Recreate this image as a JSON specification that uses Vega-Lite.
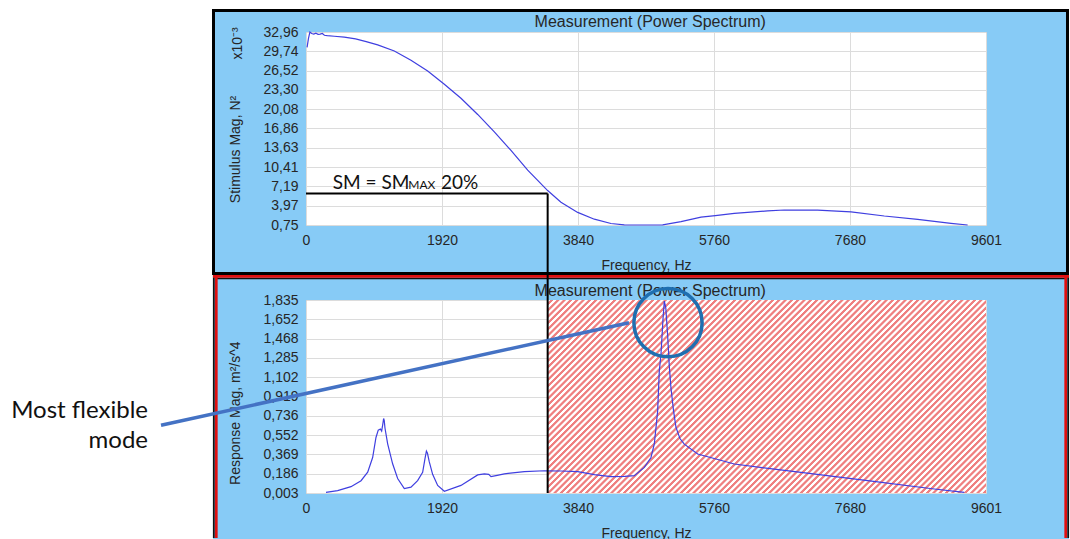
{
"$schema": "https://vega.github.io/schema/vega-lite/v6.json",
"background": "#87CBF6",
"padding": {"left": -2, "top": -2, "right": 0, "bottom": 0},
"autosize": {"type": "pad"},
"bounds": "flush",
"spacing": 75,
"datasets": {
"stimulus": [
{"f":15,"mag":30.4},{"f":35,"mag":31.9},{"f":55,"mag":32.95},{"f":80,"mag":32.7},{"f":110,"mag":32.62},{"f":140,"mag":32.75},{"f":170,"mag":32.58},{"f":200,"mag":32.62},{"f":230,"mag":32.72},{"f":260,"mag":32.42},{"f":300,"mag":32.35},{"f":400,"mag":32.25},{"f":541,"mag":32.1},{"f":700,"mag":31.8},{"f":850,"mag":31.35},{"f":1012,"mag":30.8},{"f":1247,"mag":29.8},{"f":1482,"mag":28.25},{"f":1718,"mag":26.45},{"f":1953,"mag":24.25},{"f":2188,"mag":21.9},{"f":2424,"mag":19.2},{"f":2659,"mag":16.3},{"f":2894,"mag":13.2},{"f":3130,"mag":9.9},{"f":3412,"mag":6.5},{"f":3600,"mag":4.55},{"f":3836,"mag":2.85},{"f":4071,"mag":1.72},{"f":4306,"mag":1.0},{"f":4494,"mag":0.78},{"f":4600,"mag":0.75},{"f":4900,"mag":0.75},{"f":5036,"mag":0.78},{"f":5295,"mag":1.3},{"f":5577,"mag":2.05},{"f":5779,"mag":2.3},{"f":6047,"mag":2.7},{"f":6518,"mag":3.1},{"f":6753,"mag":3.25},{"f":7224,"mag":3.22},{"f":7695,"mag":2.95},{"f":8165,"mag":2.25},{"f":8636,"mag":1.7},{"f":9107,"mag":1.03},{"f":9342,"mag":0.75}
],
"response": [
{"f":282,"mag":0.009},{"f":447,"mag":0.025},{"f":635,"mag":0.063},{"f":777,"mag":0.12},{"f":871,"mag":0.2},{"f":941,"mag":0.34},{"f":988,"mag":0.53},{"f":1020,"mag":0.6},{"f":1050,"mag":0.61},{"f":1068,"mag":0.59},{"f":1085,"mag":0.66},{"f":1096,"mag":0.71},{"f":1105,"mag":0.69},{"f":1115,"mag":0.62},{"f":1153,"mag":0.47},{"f":1223,"mag":0.28},{"f":1294,"mag":0.14},{"f":1388,"mag":0.045},{"f":1482,"mag":0.058},{"f":1576,"mag":0.12},{"f":1647,"mag":0.2},{"f":1680,"mag":0.33},{"f":1700,"mag":0.4},{"f":1715,"mag":0.38},{"f":1740,"mag":0.3},{"f":1788,"mag":0.18},{"f":1859,"mag":0.075},{"f":1953,"mag":0.02},{"f":2188,"mag":0.075},{"f":2424,"mag":0.175},{"f":2518,"mag":0.185},{"f":2580,"mag":0.18},{"f":2612,"mag":0.158},{"f":2700,"mag":0.17},{"f":2800,"mag":0.185},{"f":3083,"mag":0.205},{"f":3365,"mag":0.214},{"f":3600,"mag":0.212},{"f":3836,"mag":0.205},{"f":4071,"mag":0.178},{"f":4306,"mag":0.158},{"f":4500,"mag":0.16},{"f":4635,"mag":0.168},{"f":4777,"mag":0.246},{"f":4871,"mag":0.34},{"f":4918,"mag":0.47},{"f":4965,"mag":0.78},{"f":4988,"mag":1.16},{"f":5012,"mag":1.32},{"f":5040,"mag":1.65},{"f":5059,"mag":1.825},{"f":5080,"mag":1.76},{"f":5106,"mag":1.5},{"f":5130,"mag":1.2},{"f":5153,"mag":1.0},{"f":5190,"mag":0.78},{"f":5224,"mag":0.625},{"f":5280,"mag":0.52},{"f":5341,"mag":0.467},{"f":5530,"mag":0.373},{"f":6047,"mag":0.278},{"f":6989,"mag":0.198},{"f":7930,"mag":0.12},{"f":8871,"mag":0.041},{"f":9294,"mag":0.009}
]
},
"config": {
"font": "Liberation Sans",
"view": {"fill": "white", "stroke": "#A3A3A3", "strokeWidth": 1},
"axis": {"labelFont": "Liberation Sans", "labelFontSize": 14, "labelColor": "#262626", "titleFont": "Liberation Sans", "titleFontSize": 14, "titleFontWeight": "normal", "titleColor": "#262626", "ticks": false, "domain": false, "gridColor": "#DCDCDC", "gridWidth": 1, "labelPadding": 8, "labelOverlap": false, "labelFlush": false}
},
"vconcat": [
{
"width": 680, "height": 193,
"layer": [
{"data": {"values": [{}]}, "mark": {"type": "rect", "fill": "white"},
 "encoding": {"x": {"datum": -4334.5}, "x2": {"datum": -1313.1}, "y": {"datum": 38.467}, "y2": {"datum": -51.82}}},
{"data": {"values": [{}]}, "mark": {"type": "rect", "fill": "white"},
 "encoding": {"x": {"datum": -4334.5}, "x2": {"datum": 10800.8}, "y": {"datum": 38.467}, "y2": {"datum": 36.8}}},
{"data": {"values": [{}]}, "mark": {"type": "rect", "fill": "white"},
 "encoding": {"x": {"datum": 10772.9}, "x2": {"datum": 10800.8}, "y": {"datum": 38.467}, "y2": {"datum": -51.82}}},
{"data": {"values": [{}]}, "mark": {"type": "rect", "filled": false, "stroke": "black", "strokeWidth": 3},
 "encoding": {"x": {"datum": -1306.0}, "x2": {"datum": 10751.7}, "y": {"datum": 36.548}, "y2": {"datum": -7.344}}},
{"data": {"values": [{}]}, "mark": {"type": "text", "text": "Measurement (Power Spectrum)", "font": "Liberation Sans", "fontSize": 16, "align": "center", "baseline": "alphabetic", "color": "#262626"},
 "encoding": {"x": {"datum": 4859.8}, "y": {"datum": 33.828}}},
{"data": {"name": "stimulus"}, "mark": {"type": "line", "color": "#3F3FE0", "strokeWidth": 1.2},
 "encoding": {
  "x": {"field": "f", "type": "quantitative", "scale": {"domain": [0, 9601], "nice": false, "zero": false},
        "axis": {"values": [0, 1920, 3840, 5760, 7680, 9601], "tickCount": 20, "format": "d", "title": "Frequency, Hz", "titlePadding": 11, "grid": true, "labelOverlap": false}},
  "y": {"field": "mag", "type": "quantitative", "scale": {"domain": [0.75, 32.96], "nice": false, "zero": false},
        "axis": {"values": [0.75, 3.97, 7.19, 10.41, 13.63, 16.86, 20.08, 23.30, 26.52, 29.74, 32.96], "tickCount": 20, "labelExpr": "replace(format(datum.value, '.2f'), '.', ',')", "title": "Stimulus Mag, N²", "titleX": -66.5, "titleY": 117, "titleBaseline": "alphabetic", "grid": true, "labelOverlap": false}}
 }},
{"data": {"values": [{}]}, "mark": {"type": "rule", "color": "black", "strokeWidth": 2},
 "encoding": {"x": {"datum": 0}, "x2": {"datum": 3412}, "y": {"datum": 6.0}}},
{"data": {"values": [{}]}, "mark": {"type": "rule", "color": "black", "strokeWidth": 2},
 "encoding": {"x": {"datum": 3412}, "y": {"datum": 6.0}, "y2": {"datum": -7.93}}},
{"data": {"values": [{}]}, "mark": {"type": "text", "text": "SM = SM", "font": "Lato", "fontSize": 19, "align": "left", "baseline": "alphabetic", "color": "#111111"},
 "encoding": {"x": {"datum": 377}, "y": {"datum": 6.808}}},
{"data": {"values": [{}]}, "mark": {"type": "text", "text": "MAX", "font": "Lato", "fontSize": 12, "align": "left", "baseline": "alphabetic", "color": "#111111"},
 "encoding": {"x": {"datum": 1444.4}, "y": {"datum": 6.808}}},
{"data": {"values": [{}]}, "mark": {"type": "text", "text": "20%", "font": "Lato", "fontSize": 19, "align": "left", "baseline": "alphabetic", "color": "#111111"},
 "encoding": {"x": {"datum": 1905}, "y": {"datum": 6.808}}},
{"data": {"values": [{}]}, "mark": {"type": "text", "text": "x10⁻³", "font": "Liberation Sans", "fontSize": 14, "angle": 270, "align": "center", "baseline": "alphabetic", "color": "#262626"},
 "encoding": {"x": {"datum": -903.6}, "y": {"datum": 31.04}}}
]
},
{
"width": 680, "height": 193,
"layer": [
{"data": {"values": [{}]}, "mark": {"type": "rect", "fill": {"gradient": "linear", "x1": 0, "y1": 0, "x2": 1.2064, "y2": 0.5312, "stops": [
{"offset":0,"color":"#fff"},{"offset":0.0035,"color":"#fff"},{"offset":0.005,"color":"#ef8080"},{"offset":0.0085,"color":"#ef8080"},
{"offset":0.01,"color":"#fff"},{"offset":0.0135,"color":"#fff"},{"offset":0.015,"color":"#ef8080"},{"offset":0.0185,"color":"#ef8080"},
{"offset":0.02,"color":"#fff"},{"offset":0.0235,"color":"#fff"},{"offset":0.025,"color":"#ef8080"},{"offset":0.0285,"color":"#ef8080"},
{"offset":0.03,"color":"#fff"},{"offset":0.0335,"color":"#fff"},{"offset":0.035,"color":"#ef8080"},{"offset":0.0385,"color":"#ef8080"},
{"offset":0.04,"color":"#fff"},{"offset":0.0435,"color":"#fff"},{"offset":0.045,"color":"#ef8080"},{"offset":0.0485,"color":"#ef8080"},
{"offset":0.05,"color":"#fff"},{"offset":0.0535,"color":"#fff"},{"offset":0.055,"color":"#ef8080"},{"offset":0.0585,"color":"#ef8080"},
{"offset":0.06,"color":"#fff"},{"offset":0.0635,"color":"#fff"},{"offset":0.065,"color":"#ef8080"},{"offset":0.0685,"color":"#ef8080"},
{"offset":0.07,"color":"#fff"},{"offset":0.0735,"color":"#fff"},{"offset":0.075,"color":"#ef8080"},{"offset":0.0785,"color":"#ef8080"},
{"offset":0.08,"color":"#fff"},{"offset":0.0835,"color":"#fff"},{"offset":0.085,"color":"#ef8080"},{"offset":0.0885,"color":"#ef8080"},
{"offset":0.09,"color":"#fff"},{"offset":0.0935,"color":"#fff"},{"offset":0.095,"color":"#ef8080"},{"offset":0.0985,"color":"#ef8080"},
{"offset":0.10,"color":"#fff"},{"offset":0.1035,"color":"#fff"},{"offset":0.105,"color":"#ef8080"},{"offset":0.1085,"color":"#ef8080"},
{"offset":0.11,"color":"#fff"},{"offset":0.1135,"color":"#fff"},{"offset":0.115,"color":"#ef8080"},{"offset":0.1185,"color":"#ef8080"},
{"offset":0.12,"color":"#fff"},{"offset":0.1235,"color":"#fff"},{"offset":0.125,"color":"#ef8080"},{"offset":0.1285,"color":"#ef8080"},
{"offset":0.13,"color":"#fff"},{"offset":0.1335,"color":"#fff"},{"offset":0.135,"color":"#ef8080"},{"offset":0.1385,"color":"#ef8080"},
{"offset":0.14,"color":"#fff"},{"offset":0.1435,"color":"#fff"},{"offset":0.145,"color":"#ef8080"},{"offset":0.1485,"color":"#ef8080"},
{"offset":0.15,"color":"#fff"},{"offset":0.1535,"color":"#fff"},{"offset":0.155,"color":"#ef8080"},{"offset":0.1585,"color":"#ef8080"},
{"offset":0.16,"color":"#fff"},{"offset":0.1635,"color":"#fff"},{"offset":0.165,"color":"#ef8080"},{"offset":0.1685,"color":"#ef8080"},
{"offset":0.17,"color":"#fff"},{"offset":0.1735,"color":"#fff"},{"offset":0.175,"color":"#ef8080"},{"offset":0.1785,"color":"#ef8080"},
{"offset":0.18,"color":"#fff"},{"offset":0.1835,"color":"#fff"},{"offset":0.185,"color":"#ef8080"},{"offset":0.1885,"color":"#ef8080"},
{"offset":0.19,"color":"#fff"},{"offset":0.1935,"color":"#fff"},{"offset":0.195,"color":"#ef8080"},{"offset":0.1985,"color":"#ef8080"},
{"offset":0.20,"color":"#fff"},{"offset":0.2035,"color":"#fff"},{"offset":0.205,"color":"#ef8080"},{"offset":0.2085,"color":"#ef8080"},
{"offset":0.21,"color":"#fff"},{"offset":0.2135,"color":"#fff"},{"offset":0.215,"color":"#ef8080"},{"offset":0.2185,"color":"#ef8080"},
{"offset":0.22,"color":"#fff"},{"offset":0.2235,"color":"#fff"},{"offset":0.225,"color":"#ef8080"},{"offset":0.2285,"color":"#ef8080"},
{"offset":0.23,"color":"#fff"},{"offset":0.2335,"color":"#fff"},{"offset":0.235,"color":"#ef8080"},{"offset":0.2385,"color":"#ef8080"},
{"offset":0.24,"color":"#fff"},{"offset":0.2435,"color":"#fff"},{"offset":0.245,"color":"#ef8080"},{"offset":0.2485,"color":"#ef8080"},
{"offset":0.25,"color":"#fff"},{"offset":0.2535,"color":"#fff"},{"offset":0.255,"color":"#ef8080"},{"offset":0.2585,"color":"#ef8080"},
{"offset":0.26,"color":"#fff"},{"offset":0.2635,"color":"#fff"},{"offset":0.265,"color":"#ef8080"},{"offset":0.2685,"color":"#ef8080"},
{"offset":0.27,"color":"#fff"},{"offset":0.2735,"color":"#fff"},{"offset":0.275,"color":"#ef8080"},{"offset":0.2785,"color":"#ef8080"},
{"offset":0.28,"color":"#fff"},{"offset":0.2835,"color":"#fff"},{"offset":0.285,"color":"#ef8080"},{"offset":0.2885,"color":"#ef8080"},
{"offset":0.29,"color":"#fff"},{"offset":0.2935,"color":"#fff"},{"offset":0.295,"color":"#ef8080"},{"offset":0.2985,"color":"#ef8080"},
{"offset":0.30,"color":"#fff"},{"offset":0.3035,"color":"#fff"},{"offset":0.305,"color":"#ef8080"},{"offset":0.3085,"color":"#ef8080"},
{"offset":0.31,"color":"#fff"},{"offset":0.3135,"color":"#fff"},{"offset":0.315,"color":"#ef8080"},{"offset":0.3185,"color":"#ef8080"},
{"offset":0.32,"color":"#fff"},{"offset":0.3235,"color":"#fff"},{"offset":0.325,"color":"#ef8080"},{"offset":0.3285,"color":"#ef8080"},
{"offset":0.33,"color":"#fff"},{"offset":0.3335,"color":"#fff"},{"offset":0.335,"color":"#ef8080"},{"offset":0.3385,"color":"#ef8080"},
{"offset":0.34,"color":"#fff"},{"offset":0.3435,"color":"#fff"},{"offset":0.345,"color":"#ef8080"},{"offset":0.3485,"color":"#ef8080"},
{"offset":0.35,"color":"#fff"},{"offset":0.3535,"color":"#fff"},{"offset":0.355,"color":"#ef8080"},{"offset":0.3585,"color":"#ef8080"},
{"offset":0.36,"color":"#fff"},{"offset":0.3635,"color":"#fff"},{"offset":0.365,"color":"#ef8080"},{"offset":0.3685,"color":"#ef8080"},
{"offset":0.37,"color":"#fff"},{"offset":0.3735,"color":"#fff"},{"offset":0.375,"color":"#ef8080"},{"offset":0.3785,"color":"#ef8080"},
{"offset":0.38,"color":"#fff"},{"offset":0.3835,"color":"#fff"},{"offset":0.385,"color":"#ef8080"},{"offset":0.3885,"color":"#ef8080"},
{"offset":0.39,"color":"#fff"},{"offset":0.3935,"color":"#fff"},{"offset":0.395,"color":"#ef8080"},{"offset":0.3985,"color":"#ef8080"},
{"offset":0.40,"color":"#fff"},{"offset":0.4035,"color":"#fff"},{"offset":0.405,"color":"#ef8080"},{"offset":0.4085,"color":"#ef8080"},
{"offset":0.41,"color":"#fff"},{"offset":0.4135,"color":"#fff"},{"offset":0.415,"color":"#ef8080"},{"offset":0.4185,"color":"#ef8080"},
{"offset":0.42,"color":"#fff"},{"offset":0.4235,"color":"#fff"},{"offset":0.425,"color":"#ef8080"},{"offset":0.4285,"color":"#ef8080"},
{"offset":0.43,"color":"#fff"},{"offset":0.4335,"color":"#fff"},{"offset":0.435,"color":"#ef8080"},{"offset":0.4385,"color":"#ef8080"},
{"offset":0.44,"color":"#fff"},{"offset":0.4435,"color":"#fff"},{"offset":0.445,"color":"#ef8080"},{"offset":0.4485,"color":"#ef8080"},
{"offset":0.45,"color":"#fff"},{"offset":0.4535,"color":"#fff"},{"offset":0.455,"color":"#ef8080"},{"offset":0.4585,"color":"#ef8080"},
{"offset":0.46,"color":"#fff"},{"offset":0.4635,"color":"#fff"},{"offset":0.465,"color":"#ef8080"},{"offset":0.4685,"color":"#ef8080"},
{"offset":0.47,"color":"#fff"},{"offset":0.4735,"color":"#fff"},{"offset":0.475,"color":"#ef8080"},{"offset":0.4785,"color":"#ef8080"},
{"offset":0.48,"color":"#fff"},{"offset":0.4835,"color":"#fff"},{"offset":0.485,"color":"#ef8080"},{"offset":0.4885,"color":"#ef8080"},
{"offset":0.49,"color":"#fff"},{"offset":0.4935,"color":"#fff"},{"offset":0.495,"color":"#ef8080"},{"offset":0.4985,"color":"#ef8080"},
{"offset":0.50,"color":"#fff"},{"offset":0.5035,"color":"#fff"},{"offset":0.505,"color":"#ef8080"},{"offset":0.5085,"color":"#ef8080"},
{"offset":0.51,"color":"#fff"},{"offset":0.5135,"color":"#fff"},{"offset":0.515,"color":"#ef8080"},{"offset":0.5185,"color":"#ef8080"},
{"offset":0.52,"color":"#fff"},{"offset":0.5235,"color":"#fff"},{"offset":0.525,"color":"#ef8080"},{"offset":0.5285,"color":"#ef8080"},
{"offset":0.53,"color":"#fff"},{"offset":0.5335,"color":"#fff"},{"offset":0.535,"color":"#ef8080"},{"offset":0.5385,"color":"#ef8080"},
{"offset":0.54,"color":"#fff"},{"offset":0.5435,"color":"#fff"},{"offset":0.545,"color":"#ef8080"},{"offset":0.5485,"color":"#ef8080"},
{"offset":0.55,"color":"#fff"},{"offset":0.5535,"color":"#fff"},{"offset":0.555,"color":"#ef8080"},{"offset":0.5585,"color":"#ef8080"},
{"offset":0.56,"color":"#fff"},{"offset":0.5635,"color":"#fff"},{"offset":0.565,"color":"#ef8080"},{"offset":0.5685,"color":"#ef8080"},
{"offset":0.57,"color":"#fff"},{"offset":0.5735,"color":"#fff"},{"offset":0.575,"color":"#ef8080"},{"offset":0.5785,"color":"#ef8080"},
{"offset":0.58,"color":"#fff"},{"offset":0.5835,"color":"#fff"},{"offset":0.585,"color":"#ef8080"},{"offset":0.5885,"color":"#ef8080"},
{"offset":0.59,"color":"#fff"},{"offset":0.5935,"color":"#fff"},{"offset":0.595,"color":"#ef8080"},{"offset":0.5985,"color":"#ef8080"},
{"offset":0.60,"color":"#fff"},{"offset":0.6035,"color":"#fff"},{"offset":0.605,"color":"#ef8080"},{"offset":0.6085,"color":"#ef8080"},
{"offset":0.61,"color":"#fff"},{"offset":0.6135,"color":"#fff"},{"offset":0.615,"color":"#ef8080"},{"offset":0.6185,"color":"#ef8080"},
{"offset":0.62,"color":"#fff"},{"offset":0.6235,"color":"#fff"},{"offset":0.625,"color":"#ef8080"},{"offset":0.6285,"color":"#ef8080"},
{"offset":0.63,"color":"#fff"},{"offset":0.6335,"color":"#fff"},{"offset":0.635,"color":"#ef8080"},{"offset":0.6385,"color":"#ef8080"},
{"offset":0.64,"color":"#fff"},{"offset":0.6435,"color":"#fff"},{"offset":0.645,"color":"#ef8080"},{"offset":0.6485,"color":"#ef8080"},
{"offset":0.65,"color":"#fff"},{"offset":0.6535,"color":"#fff"},{"offset":0.655,"color":"#ef8080"},{"offset":0.6585,"color":"#ef8080"},
{"offset":0.66,"color":"#fff"},{"offset":0.6635,"color":"#fff"},{"offset":0.665,"color":"#ef8080"},{"offset":0.6685,"color":"#ef8080"},
{"offset":0.67,"color":"#fff"},{"offset":0.6735,"color":"#fff"},{"offset":0.675,"color":"#ef8080"},{"offset":0.6785,"color":"#ef8080"},
{"offset":0.68,"color":"#fff"},{"offset":0.6835,"color":"#fff"},{"offset":0.685,"color":"#ef8080"},{"offset":0.6885,"color":"#ef8080"},
{"offset":0.69,"color":"#fff"},{"offset":0.6935,"color":"#fff"},{"offset":0.695,"color":"#ef8080"},{"offset":0.6985,"color":"#ef8080"},
{"offset":0.70,"color":"#fff"},{"offset":0.7035,"color":"#fff"},{"offset":0.705,"color":"#ef8080"},{"offset":0.7085,"color":"#ef8080"},
{"offset":0.71,"color":"#fff"},{"offset":0.7135,"color":"#fff"},{"offset":0.715,"color":"#ef8080"},{"offset":0.7185,"color":"#ef8080"},
{"offset":0.72,"color":"#fff"},{"offset":0.7235,"color":"#fff"},{"offset":0.725,"color":"#ef8080"},{"offset":0.7285,"color":"#ef8080"},
{"offset":0.73,"color":"#fff"},{"offset":0.7335,"color":"#fff"},{"offset":0.735,"color":"#ef8080"},{"offset":0.7385,"color":"#ef8080"},
{"offset":0.74,"color":"#fff"},{"offset":0.7435,"color":"#fff"},{"offset":0.745,"color":"#ef8080"},{"offset":0.7485,"color":"#ef8080"},
{"offset":0.75,"color":"#fff"},{"offset":0.7535,"color":"#fff"},{"offset":0.755,"color":"#ef8080"},{"offset":0.7585,"color":"#ef8080"},
{"offset":0.76,"color":"#fff"},{"offset":0.7635,"color":"#fff"},{"offset":0.765,"color":"#ef8080"},{"offset":0.7685,"color":"#ef8080"},
{"offset":0.77,"color":"#fff"},{"offset":0.7735,"color":"#fff"},{"offset":0.775,"color":"#ef8080"},{"offset":0.7785,"color":"#ef8080"},
{"offset":0.78,"color":"#fff"},{"offset":0.7835,"color":"#fff"},{"offset":0.785,"color":"#ef8080"},{"offset":0.7885,"color":"#ef8080"},
{"offset":0.79,"color":"#fff"},{"offset":0.7935,"color":"#fff"},{"offset":0.795,"color":"#ef8080"},{"offset":0.7985,"color":"#ef8080"},
{"offset":0.80,"color":"#fff"},{"offset":0.8035,"color":"#fff"},{"offset":0.805,"color":"#ef8080"},{"offset":0.8085,"color":"#ef8080"},
{"offset":0.81,"color":"#fff"},{"offset":0.8135,"color":"#fff"},{"offset":0.815,"color":"#ef8080"},{"offset":0.8185,"color":"#ef8080"},
{"offset":0.82,"color":"#fff"},{"offset":0.8235,"color":"#fff"},{"offset":0.825,"color":"#ef8080"},{"offset":0.8285,"color":"#ef8080"},
{"offset":0.83,"color":"#fff"},{"offset":0.8335,"color":"#fff"},{"offset":0.835,"color":"#ef8080"},{"offset":0.8385,"color":"#ef8080"},
{"offset":0.84,"color":"#fff"},{"offset":0.8435,"color":"#fff"},{"offset":0.845,"color":"#ef8080"},{"offset":0.8485,"color":"#ef8080"},
{"offset":0.85,"color":"#fff"},{"offset":0.8535,"color":"#fff"},{"offset":0.855,"color":"#ef8080"},{"offset":0.8585,"color":"#ef8080"},
{"offset":0.86,"color":"#fff"},{"offset":0.8635,"color":"#fff"},{"offset":0.865,"color":"#ef8080"},{"offset":0.8685,"color":"#ef8080"},
{"offset":0.87,"color":"#fff"},{"offset":0.8735,"color":"#fff"},{"offset":0.875,"color":"#ef8080"},{"offset":0.8785,"color":"#ef8080"},
{"offset":0.88,"color":"#fff"},{"offset":0.8835,"color":"#fff"},{"offset":0.885,"color":"#ef8080"},{"offset":0.8885,"color":"#ef8080"},
{"offset":0.89,"color":"#fff"},{"offset":0.8935,"color":"#fff"},{"offset":0.895,"color":"#ef8080"},{"offset":0.8985,"color":"#ef8080"},
{"offset":0.90,"color":"#fff"},{"offset":0.9035,"color":"#fff"},{"offset":0.905,"color":"#ef8080"},{"offset":0.9085,"color":"#ef8080"},
{"offset":0.91,"color":"#fff"},{"offset":0.9135,"color":"#fff"},{"offset":0.915,"color":"#ef8080"},{"offset":0.9185,"color":"#ef8080"},
{"offset":0.92,"color":"#fff"},{"offset":0.9235,"color":"#fff"},{"offset":0.925,"color":"#ef8080"},{"offset":0.9285,"color":"#ef8080"},
{"offset":0.93,"color":"#fff"},{"offset":0.9335,"color":"#fff"},{"offset":0.935,"color":"#ef8080"},{"offset":0.9385,"color":"#ef8080"},
{"offset":0.94,"color":"#fff"},{"offset":0.9435,"color":"#fff"},{"offset":0.945,"color":"#ef8080"},{"offset":0.9485,"color":"#ef8080"},
{"offset":0.95,"color":"#fff"},{"offset":0.9535,"color":"#fff"},{"offset":0.955,"color":"#ef8080"},{"offset":0.9585,"color":"#ef8080"},
{"offset":0.96,"color":"#fff"},{"offset":0.9635,"color":"#fff"},{"offset":0.965,"color":"#ef8080"},{"offset":0.9685,"color":"#ef8080"},
{"offset":0.97,"color":"#fff"},{"offset":0.9735,"color":"#fff"},{"offset":0.975,"color":"#ef8080"},{"offset":0.9785,"color":"#ef8080"},
{"offset":0.98,"color":"#fff"},{"offset":0.9835,"color":"#fff"},{"offset":0.985,"color":"#ef8080"},{"offset":0.9885,"color":"#ef8080"},
{"offset":0.99,"color":"#fff"},{"offset":0.9935,"color":"#fff"},{"offset":0.995,"color":"#ef8080"},{"offset":0.9985,"color":"#ef8080"},
{"offset":1,"color":"#fff"}
]}},
 "encoding": {"x": {"datum": 3412}, "x2": {"datum": 9601}, "y": {"datum": 1.835}, "y2": {"datum": 0.003}}},
{"data": {"values": [{}]}, "mark": {"type": "text", "text": "Measurement (Power Spectrum)", "font": "Liberation Sans", "fontSize": 16, "align": "center", "baseline": "alphabetic", "color": "#262626"},
 "encoding": {"x": {"datum": 4859.8}, "y": {"datum": 1.8777}}},
{"data": {"name": "response"}, "mark": {"type": "line", "color": "#3F3FE0", "strokeWidth": 1.2},
 "encoding": {
  "x": {"field": "f", "type": "quantitative", "scale": {"domain": [0, 9601], "nice": false, "zero": false},
        "axis": {"values": [0, 1920, 3840, 5760, 7680, 9601], "tickCount": 20, "format": "d", "title": "Frequency, Hz", "titlePadding": 11, "grid": true, "labelOverlap": false}},
  "y": {"field": "mag", "type": "quantitative", "scale": {"domain": [0.003, 1.835], "nice": false, "zero": false},
        "axis": {"values": [0.003, 0.186, 0.369, 0.552, 0.736, 0.919, 1.102, 1.285, 1.468, 1.652, 1.835], "tickCount": 20, "labelExpr": "replace(format(datum.value, '.3f'), '.', ',')", "title": "Response Mag, m²/s^4", "titleX": -66.5, "titleY": 112.7, "titleBaseline": "alphabetic", "grid": true, "labelOverlap": false}}
 }},
{"data": {"values": [{}]}, "mark": {"type": "rule", "color": "#111111", "strokeWidth": 1.8},
 "encoding": {"x": {"datum": -1301.8}, "y": {"datum": 2.0723}, "y2": {"datum": -0.4241}}},
{"data": {"values": [{}]}, "mark": {"type": "rule", "color": "#111111", "strokeWidth": 1.8},
 "encoding": {"x": {"datum": 10761.6}, "y": {"datum": 2.0723}, "y2": {"datum": -0.4241}}},
{"data": {"values": [{}]}, "mark": {"type": "rule", "color": "#111111", "strokeWidth": 1.3},
 "encoding": {"x": {"datum": -1266.5}, "x2": {"datum": 10726.3}, "y": {"datum": 2.0391}}},
{"data": {"values": [{}]}, "mark": {"type": "rule", "color": "#E01010", "strokeWidth": 2.7},
 "encoding": {"x": {"datum": -1313.1}, "x2": {"datum": 10772.9}, "y": {"datum": 2.06}}},
{"data": {"values": [{}]}, "mark": {"type": "rule", "color": "#E01010", "strokeWidth": 2.7},
 "encoding": {"x": {"datum": -1266.5}, "y": {"datum": 2.0723}, "y2": {"datum": -0.4241}}},
{"data": {"values": [{}]}, "mark": {"type": "rule", "color": "#E01010", "strokeWidth": 2.7},
 "encoding": {"x": {"datum": 10726.3}, "y": {"datum": 2.0723}, "y2": {"datum": -0.4241}}},
{"data": {"values": [{}]}, "mark": {"type": "rule", "color": "black", "strokeWidth": 2},
 "encoding": {"x": {"datum": 3412}, "y": {"datum": 0.003}, "y2": {"datum": 2.1008}}},
{"data": {"values": [{}]}, "mark": {"type": "rule", "color": "#4472C4", "strokeWidth": 3.5},
 "encoding": {"x": {"datum": -2047.3}, "y": {"datum": 0.6456}, "x2": {"datum": 4560.5}, "y2": {"datum": 1.6195}}},
{"data": {"values": [{}]}, "mark": {"type": "point", "shape": "circle", "filled": false, "size": 4657, "stroke": "#1F6FB0", "strokeWidth": 3.5, "opacity": 1},
 "encoding": {"x": {"datum": 5111.1}, "y": {"datum": 1.6195}}},
{"data": {"values": [{}]}, "mark": {"type": "text", "text": ["Most flexible", "mode"], "font": "Lato", "fontSize": 24, "lineHeight": 30, "align": "right", "baseline": "alphabetic", "color": "#111111"},
 "encoding": {"x": {"datum": -2230.8}, "y": {"datum": 0.7178}}}
]
}
]
}
